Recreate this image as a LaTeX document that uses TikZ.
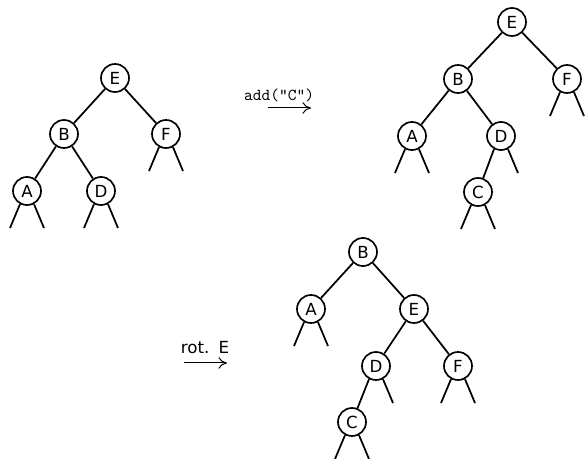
\documentclass[tikz,border=0pt]{standalone}
\usepackage{fontspec}
\setsansfont{DejaVu Sans}
\usepackage{tikz}
\usetikzlibrary{arrows.meta,calc}
\tikzset{
  vert/.style={draw, circle, line width=1pt, minimum size=16.8pt, inner sep=0pt,
               font=\sffamily},
  edge/.style={line width=1.05pt},
  arr/.style={-{To[length=1.8mm,width=2.4mm]}, line width=0.6pt},
  lbl/.style={inner sep=1pt},
}
% two empty subtrees below a vertex
\newcommand{\stubs}[1]{%
  \coordinate (#1-l) at ($(#1)+(-17,37)$);
  \coordinate (#1-r) at ($(#1)+(17,37)$);
  \draw[edge] (#1.-118) -- (#1-l);
  \draw[edge] (#1.-62) -- (#1-r);}

\begin{document}
\begin{tikzpicture}[x=0.6pt, y=-0.6pt]
  \useasboundingbox (0,0) rectangle (586,459);

  % before the insertion
  \node[vert] (E1) at (115,78)  {E};
  \node[vert] (B1) at (64,134)  {B};
  \node[vert] (F1) at (166,134) {F};
  \node[vert] (A1) at (27,191)  {A};
  \node[vert] (D1) at (101,191) {D};
  \draw[edge] (E1) -- (B1); \draw[edge] (E1) -- (F1);
  \draw[edge] (B1) -- (A1); \draw[edge] (B1) -- (D1);
  \stubs{F1} \stubs{A1} \stubs{D1}

  % insertion step
  \node[lbl] (addlbl) at (279,95) {\texttt{add("C")}};
  \coordinate (add-s) at (268,108);
  \coordinate (add-e) at (311,108);
  \draw[arr] (add-s) -- (add-e);

  % after the insertion
  \node[vert] (E2) at (512,22)  {E};
  \node[vert] (B2) at (458,79)  {B};
  \node[vert] (F2) at (567,79)  {F};
  \node[vert] (A2) at (412,136) {A};
  \node[vert] (D2) at (501,136) {D};
  \node[vert] (C2) at (478,192) {C};
  \draw[edge] (E2) -- (B2); \draw[edge] (E2) -- (F2);
  \draw[edge] (B2) -- (A2); \draw[edge] (B2) -- (D2);
  \draw[edge] (D2.-118) -- (C2);
  \coordinate (D2-r) at ($(D2)+(17,37)$);
  \draw[edge] (D2.-62) -- (D2-r);
  \stubs{F2} \stubs{A2} \stubs{C2}

  % rotation step
  \node[lbl] (rotlbl) at (205,348) {\sffamily rot.\hspace{0.55em}E};
  \coordinate (rot-s) at (184,363);
  \coordinate (rot-e) at (227,363);
  \draw[arr] (rot-s) -- (rot-e);

  % after the rotation
  \node[vert] (B3) at (363,252) {B};
  \node[vert] (A3) at (311,309) {A};
  \node[vert] (E3) at (414,309) {E};
  \node[vert] (D3) at (376,366) {D};
  \node[vert] (F3) at (458,366) {F};
  \node[vert] (C3) at (352,422) {C};
  \draw[edge] (B3) -- (A3); \draw[edge] (B3) -- (E3);
  \draw[edge] (E3) -- (D3); \draw[edge] (E3) -- (F3);
  \draw[edge] (D3.-118) -- (C3);
  \coordinate (D3-r) at ($(D3)+(17,37)$);
  \draw[edge] (D3.-62) -- (D3-r);
  \stubs{A3} \stubs{F3} \stubs{C3}
\end{tikzpicture}
\end{document}
